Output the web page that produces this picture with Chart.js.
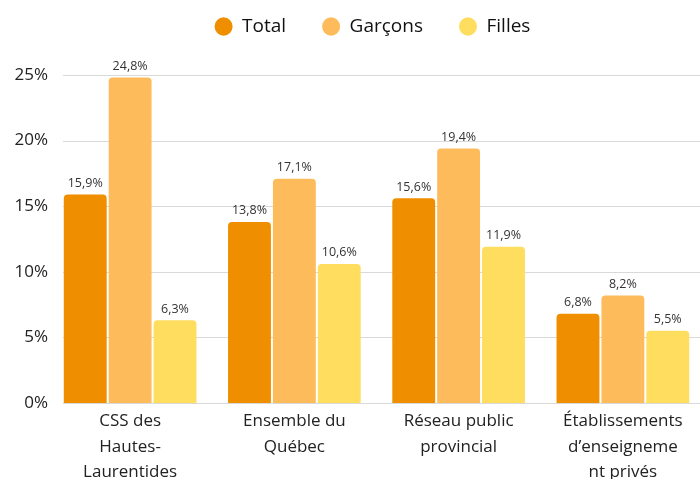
<!DOCTYPE html>
<html><head><meta charset="utf-8">
<script src="https://cdn.jsdelivr.net/npm/chart.js@4"></script>
<style>
html,body{margin:0;padding:0;background:#fff;overflow:hidden;width:700px;height:479px}
#wrap{position:relative;width:705px;height:479px}
</style></head>
<body><div id="wrap"><canvas id="c"></canvas></div>
<script>
const categories = [["CSS des","Hautes-","Laurentides"],["Ensemble du","Québec"],["Réseau public","provincial"],["Établissements","d’enseigneme","nt privés"]];
const seriesNames = ["Total","Garçons","Filles"];
const totalValues = [15.9,13.8,15.6,6.8];
const garconsValues = [24.8,17.1,19.4,8.2];
const fillesValues = [6.3,10.6,11.9,5.5];
const yTickValues = [0,5,10,15,20,25];
const colors = ['#EF8F00','#FDBB5B','#FEDD5F'];

const FONT = "'Open Sans', sans-serif";

const gridPlugin = {
  id: 'gridLines',
  beforeDatasetsDraw(chart) {
    const {ctx, chartArea, scales:{y}} = chart;
    ctx.save();
    ctx.strokeStyle = '#d9d9d9';
    ctx.lineWidth = 1;
    yTickValues.forEach(v => {
      const py = Math.round(y.getPixelForValue(v)) + 0.5;
      ctx.beginPath();
      ctx.moveTo(63, py);
      ctx.lineTo(chartArea.right, py);
      ctx.stroke();
    });
    ctx.restore();
  }
};

const labelPlugin = {
  id: 'valueLabels',
  afterDatasetsDraw(chart) {
    const {ctx} = chart;
    ctx.save();
    ctx.font = "12.5px " + FONT;
    ctx.fillStyle = '#333';
    ctx.textAlign = 'center';
    ctx.textBaseline = 'bottom';
    chart.data.datasets.forEach((ds, i) => {
      chart.getDatasetMeta(i).data.forEach((bar, j) => {
        const txt = ds.data[j].toFixed(1).replace('.', ',') + '%';
        ctx.fillText(txt, bar.x, bar.y - 5);
      });
    });
    ctx.restore();
  }
};

const legendAdjust = {
  id: 'legendAdjust',
  afterInit(chart) {
    const lg = chart.legend;
    if (!lg) return;
    const orig = lg.fit.bind(lg);
    lg.fit = function() { orig(); this.height = 75; };
  },
  afterLayout(chart) {
    const lg = chart.legend;
    if (!lg) return;
    lg.left += 20; lg.right += 20;
    lg.top -= 19; lg.bottom -= 19;
  }
};

new Chart(document.getElementById('c'), {
  type: 'bar',
  data: {
    labels: categories,
    datasets: [
      {label: seriesNames[0], data: totalValues, backgroundColor: colors[0]},
      {label: seriesNames[1], data: garconsValues, backgroundColor: colors[1]},
      {label: seriesNames[2], data: fillesValues, backgroundColor: colors[2]}
    ].map(d => Object.assign(d, {
      borderRadius: {topLeft: 4, topRight: 4, bottomLeft: 0, bottomRight: 0},
      borderSkipped: 'bottom',
      categoryPercentage: 0.82,
      barPercentage: 0.955
    }))
  },
  options: {
    responsive: true,
    maintainAspectRatio: false,
    animation: false,
    layout: {padding: 0},
    plugins: {
      tooltip: {enabled: false},
      legend: {
        position: 'top',
        labels: {
          usePointStyle: true,
          pointStyle: 'circle',
          boxHeight: 13,
          pointStyleWidth: 18,
          padding: 36,
          color: '#111',
          font: {family: FONT, size: 19}
        }
      }
    },
    scales: {
      x: {
        grid: {display: false, drawTicks: false},
        border: {display: false},
        ticks: {
          color: '#222',
          font: {family: FONT, size: 17, lineHeight: 1.52},
          padding: 5,
          maxRotation: 0,
          autoSkip: false
        },
        afterFit(scale) { scale.height = 76; }
      },
      y: {
        min: 0, max: 25,
        grid: {display: false, drawTicks: false},
        border: {display: false},
        ticks: {
          stepSize: 5,
          color: '#222',
          padding: 0,
          font: {family: FONT, size: 17},
          callback: v => v + '%'
        },
        afterFit(scale) { scale.width = 48; }
      }
    }
  },
  plugins: [gridPlugin, labelPlugin, legendAdjust]
});
</script>
</body></html>
